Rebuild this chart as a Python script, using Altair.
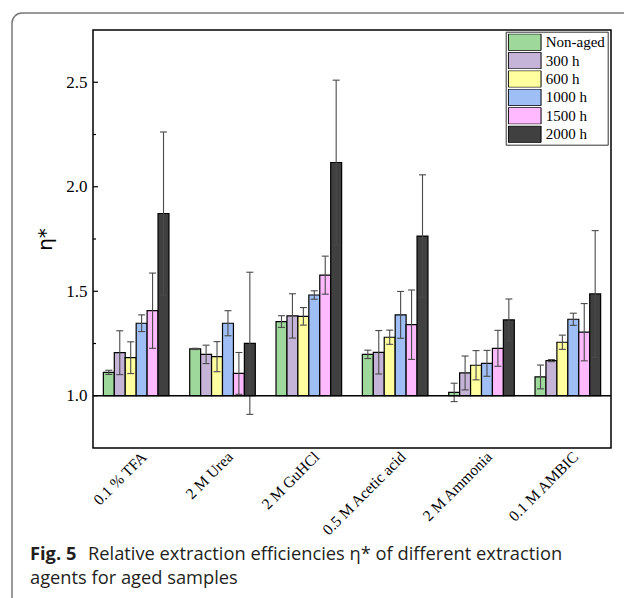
import altair as alt
import pandas as pd

categories = ["0.1 % TFA", "2 M Urea", "2 M GuHCl", "0.5 M Acetic acid", "2 M Ammonia", "0.1 M AMBIC"]
series = ["Non-aged", "300 h", "600 h", "1000 h", "1500 h", "2000 h"]
colors = ["#9fd89b", "#c6b4d8", "#ffff9f", "#9ebef5", "#ffbaff", "#404040"]

non_aged = [1.112, 1.224, 1.355, 1.198, 1.016, 1.090]
h300 = [1.206, 1.198, 1.382, 1.208, 1.109, 1.168]
h600 = [1.182, 1.187, 1.380, 1.280, 1.146, 1.256]
h1000 = [1.347, 1.347, 1.482, 1.387, 1.155, 1.366]
h1500 = [1.407, 1.107, 1.577, 1.340, 1.227, 1.304]
h2000 = [1.872, 1.251, 2.116, 1.764, 1.363, 1.487]

non_aged_err = [0.010, 0.003, 0.028, 0.020, 0.044, 0.057]
h300_err = [0.105, 0.044, 0.106, 0.104, 0.081, 0.005]
h600_err = [0.076, 0.072, 0.042, 0.034, 0.070, 0.034]
h1000_err = [0.040, 0.060, 0.020, 0.112, 0.062, 0.029]
h1500_err = [0.180, 0.100, 0.091, 0.166, 0.086, 0.137]
h2000_err = [0.390, 0.340, 0.394, 0.293, 0.100, 0.303]

major_ticks = [1.0, 1.5, 2.0, 2.5]
minor_ticks = [1.25, 1.75, 2.25]
baseline_value = [1.0]
y_domain = [0.75, 2.75]

caption_bold = "Fig. 5"
caption_line1 = "Relative extraction efficiencies η* of different extraction"
caption_line2 = "agents for aged samples"

values = [non_aged, h300, h600, h1000, h1500, h2000]
errs = [non_aged_err, h300_err, h600_err, h1000_err, h1500_err, h2000_err]

rows = []
for s, vals, es in zip(series, values, errs):
    for c, v, e in zip(categories, vals, es):
        rows.append({"agent": c, "sample": s, "eta": v, "base": 1.0, "lo": v - e, "hi": v + e})
df = pd.DataFrame(rows)

y_scale = alt.Scale(domain=y_domain, nice=False, zero=False)
x_scale = alt.Scale(paddingInner=0.24, paddingOuter=0.12)
xo_scale = alt.Scale(paddingInner=0, paddingOuter=0)

x_axis = alt.Axis(title=None, labelAngle=315, labelAlign="right", labelBaseline="top",
                  labelPadding=1, labelOffset=3, ticks=False, domain=False, grid=False,
                  labelFont="Liberation Serif", labelFontSize=15.5, labelColor="black")
y_axis = alt.Axis(title="η*", values=major_ticks, format=".1f", ticks=False, domain=False,
                  grid=False, labelFont="Liberation Serif", labelFontSize=17,
                  labelColor="black", labelPadding=6, titleFont="DejaVu Sans",
                  titleFontSize=20, titleFontWeight="normal", titlePadding=10,
                  titleColor="black")

legend = alt.Legend(title=None, orient="none", legendX=412.7, legendY=1.7,
                    strokeColor="#333", fillColor="white", padding=2,
                    symbolType="M-1,-0.51H1V0.51H-1Z", symbolSize=1070,
                    symbolStrokeColor="black", symbolStrokeWidth=1, symbolOpacity=1,
                    labelFont="Liberation Serif", labelFontSize=15, labelColor="black",
                    labelOffset=4, rowPadding=1.4, clipHeight=17)


def yq(field):
    return alt.Y(field, scale=y_scale, axis=y_axis, title="η*")


def xn():
    return alt.X("agent:N", sort=categories, scale=x_scale, axis=x_axis)


def xo():
    return alt.XOffset("sample:N", sort=series, scale=xo_scale)


base = alt.Chart(df)

bars = base.mark_bar(stroke="black", strokeWidth=1.2, opacity=1).encode(
    x=xn(), xOffset=xo(),
    y=yq("eta:Q"),
    y2="base:Q",
    color=alt.Color("sample:N", sort=series, scale=alt.Scale(domain=series, range=colors), legend=legend),
)

err_color = "#4a4a4a"
err_rule = base.mark_rule(color=err_color, strokeWidth=1.1).encode(
    x=xn(), xOffset=xo(), y=yq("lo:Q"), y2="hi:Q",
)
cap_lo = base.mark_tick(color=err_color, size=7, thickness=1.1, opacity=1).encode(
    x=xn(), xOffset=xo(), y=yq("lo:Q"),
)
cap_hi = base.mark_tick(color=err_color, size=7, thickness=1.1, opacity=1).encode(
    x=xn(), xOffset=xo(), y=yq("hi:Q"),
)

baseline = alt.Chart(pd.DataFrame({"b": baseline_value})).mark_rule(color="black", strokeWidth=1.5).encode(
    y=yq("b:Q")
)

maj = alt.Chart(pd.DataFrame({"t": major_ticks})).mark_rule(color="black", strokeWidth=1.2).encode(
    y=yq("t:Q"), x=alt.value(0), x2=alt.value(5)
)
mino = alt.Chart(pd.DataFrame({"t": minor_ticks})).mark_rule(color="black", strokeWidth=1.2).encode(
    y=yq("t:Q"), x=alt.value(0), x2=alt.value(3)
)

one = alt.Data(values=[{"k": 1}])
frame = alt.Chart(one).mark_rect(fill="white", fillOpacity=0, stroke="#777", strokeWidth=1.5,
                                 cornerRadius=10).encode(
    x=alt.value(-81), x2=alt.value(700), y=alt.value(-17), y2=alt.value(700)
)

cap_font = "Open Sans"
cap_size = 18.3
t_bold = alt.Chart(one).mark_text(align="left", baseline="alphabetic", font=cap_font,
                                  fontSize=cap_size, fontWeight="bold", color="#231f20").encode(
    x=alt.value(-63), y=alt.value(530), text=alt.value(caption_bold)
)
t_l1 = alt.Chart(one).mark_text(align="left", baseline="alphabetic", font=cap_font,
                                fontSize=cap_size, color="#231f20").encode(
    x=alt.value(-5), y=alt.value(530), text=alt.value(caption_line1)
)
t_l2 = alt.Chart(one).mark_text(align="left", baseline="alphabetic", font=cap_font,
                                fontSize=cap_size, color="#231f20").encode(
    x=alt.value(-63), y=alt.value(554), text=alt.value(caption_line2)
)

chart = alt.layer(bars, err_rule, cap_lo, cap_hi, baseline, maj, mino, frame, t_bold, t_l1, t_l2).properties(
    width=518, height=418,
    autosize=alt.AutoSizeParams(type="none"),
    padding={"left": 93, "top": 30, "right": 13, "bottom": 150},
    background="white",
).configure_view(stroke="black", strokeWidth=1.5).configure_axis(grid=False)

chart.save("out.html", embed_options={"renderer": "svg", "actions": False})
